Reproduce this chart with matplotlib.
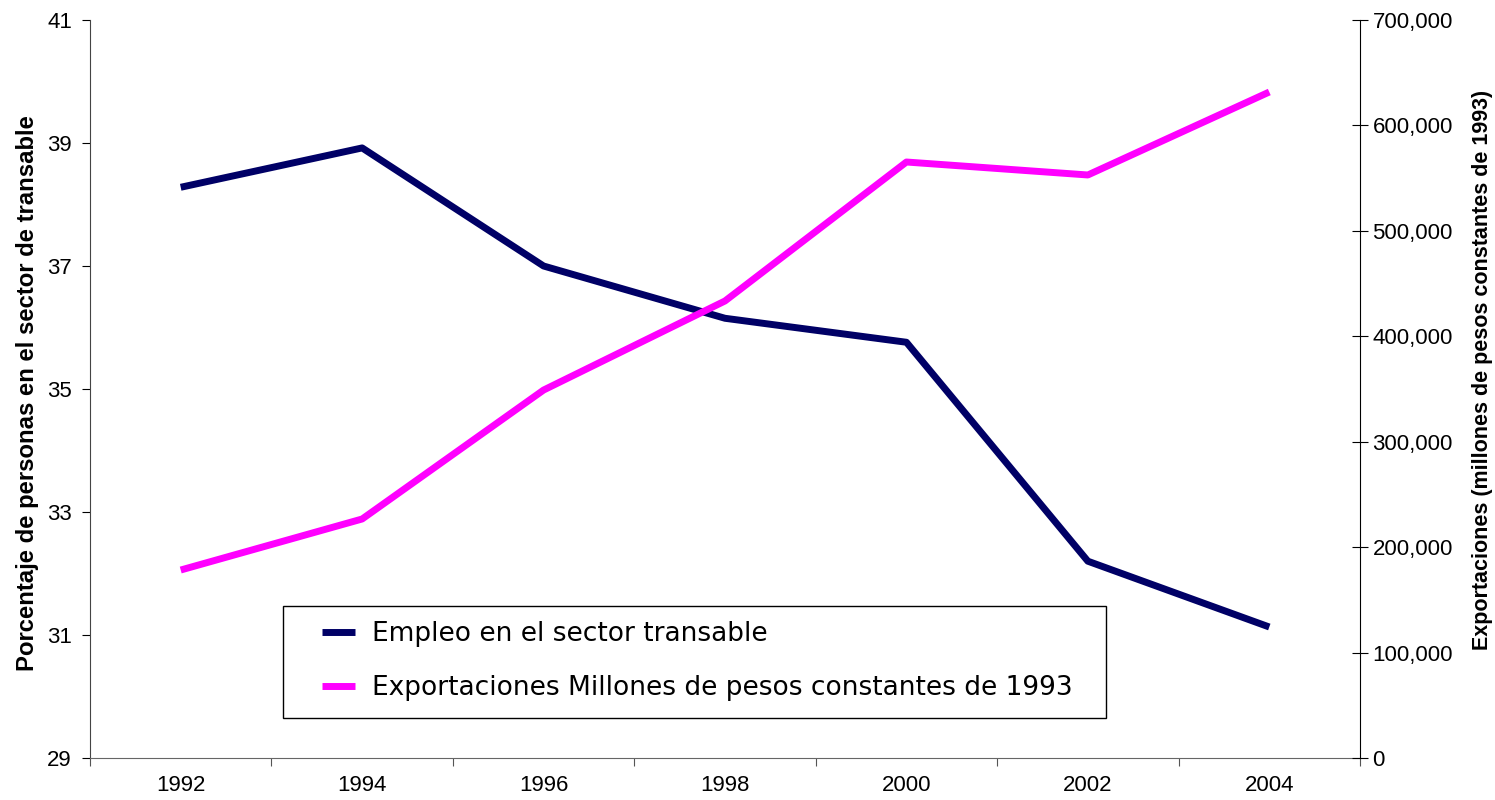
import matplotlib.pyplot as plt
from matplotlib.patches import Rectangle
from matplotlib.ticker import FuncFormatter

years = ['1992', '1994', '1996', '1998', '2000', '2002', '2004']
empleo = [38.28, 38.92, 37.0, 36.15, 35.76, 32.2, 31.13]
exportaciones = [178300, 226700, 349000, 433500, 565300, 553000, 631700]

plt.rcParams['font.family'] = ['Liberation Sans', 'DejaVu Sans']

fig = plt.figure(figsize=(14.95, 8), dpi=100)
ax1 = fig.add_axes([90 / 1495, 42 / 800, 1270 / 1495, 738 / 800])
ax2 = ax1.twinx()

x = list(range(len(years)))
l1, = ax1.plot(x, empleo, color='#000066', lw=5, solid_capstyle='butt',
               label='Empleo en el sector transable')
l2, = ax2.plot(x, exportaciones, color='#FF00FF', lw=5, solid_capstyle='butt',
               label='Exportaciones Millones de pesos constantes de 1993')

ax1.set_xlim(-0.5, 6.5)
ax1.set_ylim(29, 41)
ax1.set_yticks(range(29, 42, 2))
ax2.set_ylim(0, 700000)
ax2.set_yticks(range(0, 700001, 100000))
ax2.yaxis.set_major_formatter(FuncFormatter(lambda v, p: f'{int(v):,}'))

# category labels centred, tick marks on the boundaries
ax1.set_xticks([i - 0.5 for i in range(len(years) + 1)])
ax1.set_xticklabels([])
ax1.set_xticks(x, minor=True)
ax1.set_xticklabels(years, minor=True)
ax1.tick_params(axis='x', which='minor', length=0, pad=12, labelsize=16)
ax1.tick_params(axis='x', which='major', length=6, direction='out', color='#555555')
ax1.tick_params(axis='y', length=6, direction='out', labelsize=16, pad=7)
ax2.tick_params(axis='y', length=12, direction='inout', labelsize=16, pad=3)

for a in (ax1, ax2):
    a.spines['top'].set_visible(False)
ax1.spines['right'].set_visible(False)
ax2.spines['left'].set_visible(False)
ax2.spines['bottom'].set_visible(False)
ax1.spines['left'].set_color('#444444')
ax1.spines['bottom'].set_color('#666666')

ax1.set_ylabel('Porcentaje de personas en el sector de transable',
               fontsize=17.2, fontweight='bold', labelpad=6)
ax1.yaxis.label.set_y(0.494)
ax2.set_ylabel('Exportaciones (millones de pesos constantes de 1993)',
               fontsize=15.5, fontweight='bold', labelpad=14)
ax2.yaxis.label.set_y(0.5257)

# legend box
ax2.add_patch(Rectangle((0.152, 0.054), 0.648, 0.152, transform=ax2.transAxes,
                        fill=False, edgecolor='black', lw=1.0, zorder=5))
leg = ax2.legend(handles=[l1, l2], loc='upper left',
                 bbox_to_anchor=(0.1827, 0.185),
                 prop={'family': 'DejaVu Sans', 'size': 19},
                 frameon=False, handlelength=1.25, handletextpad=0.64,
                 labelspacing=1.04, borderpad=0, borderaxespad=0)

fig.savefig('out.png', dpi=100)
